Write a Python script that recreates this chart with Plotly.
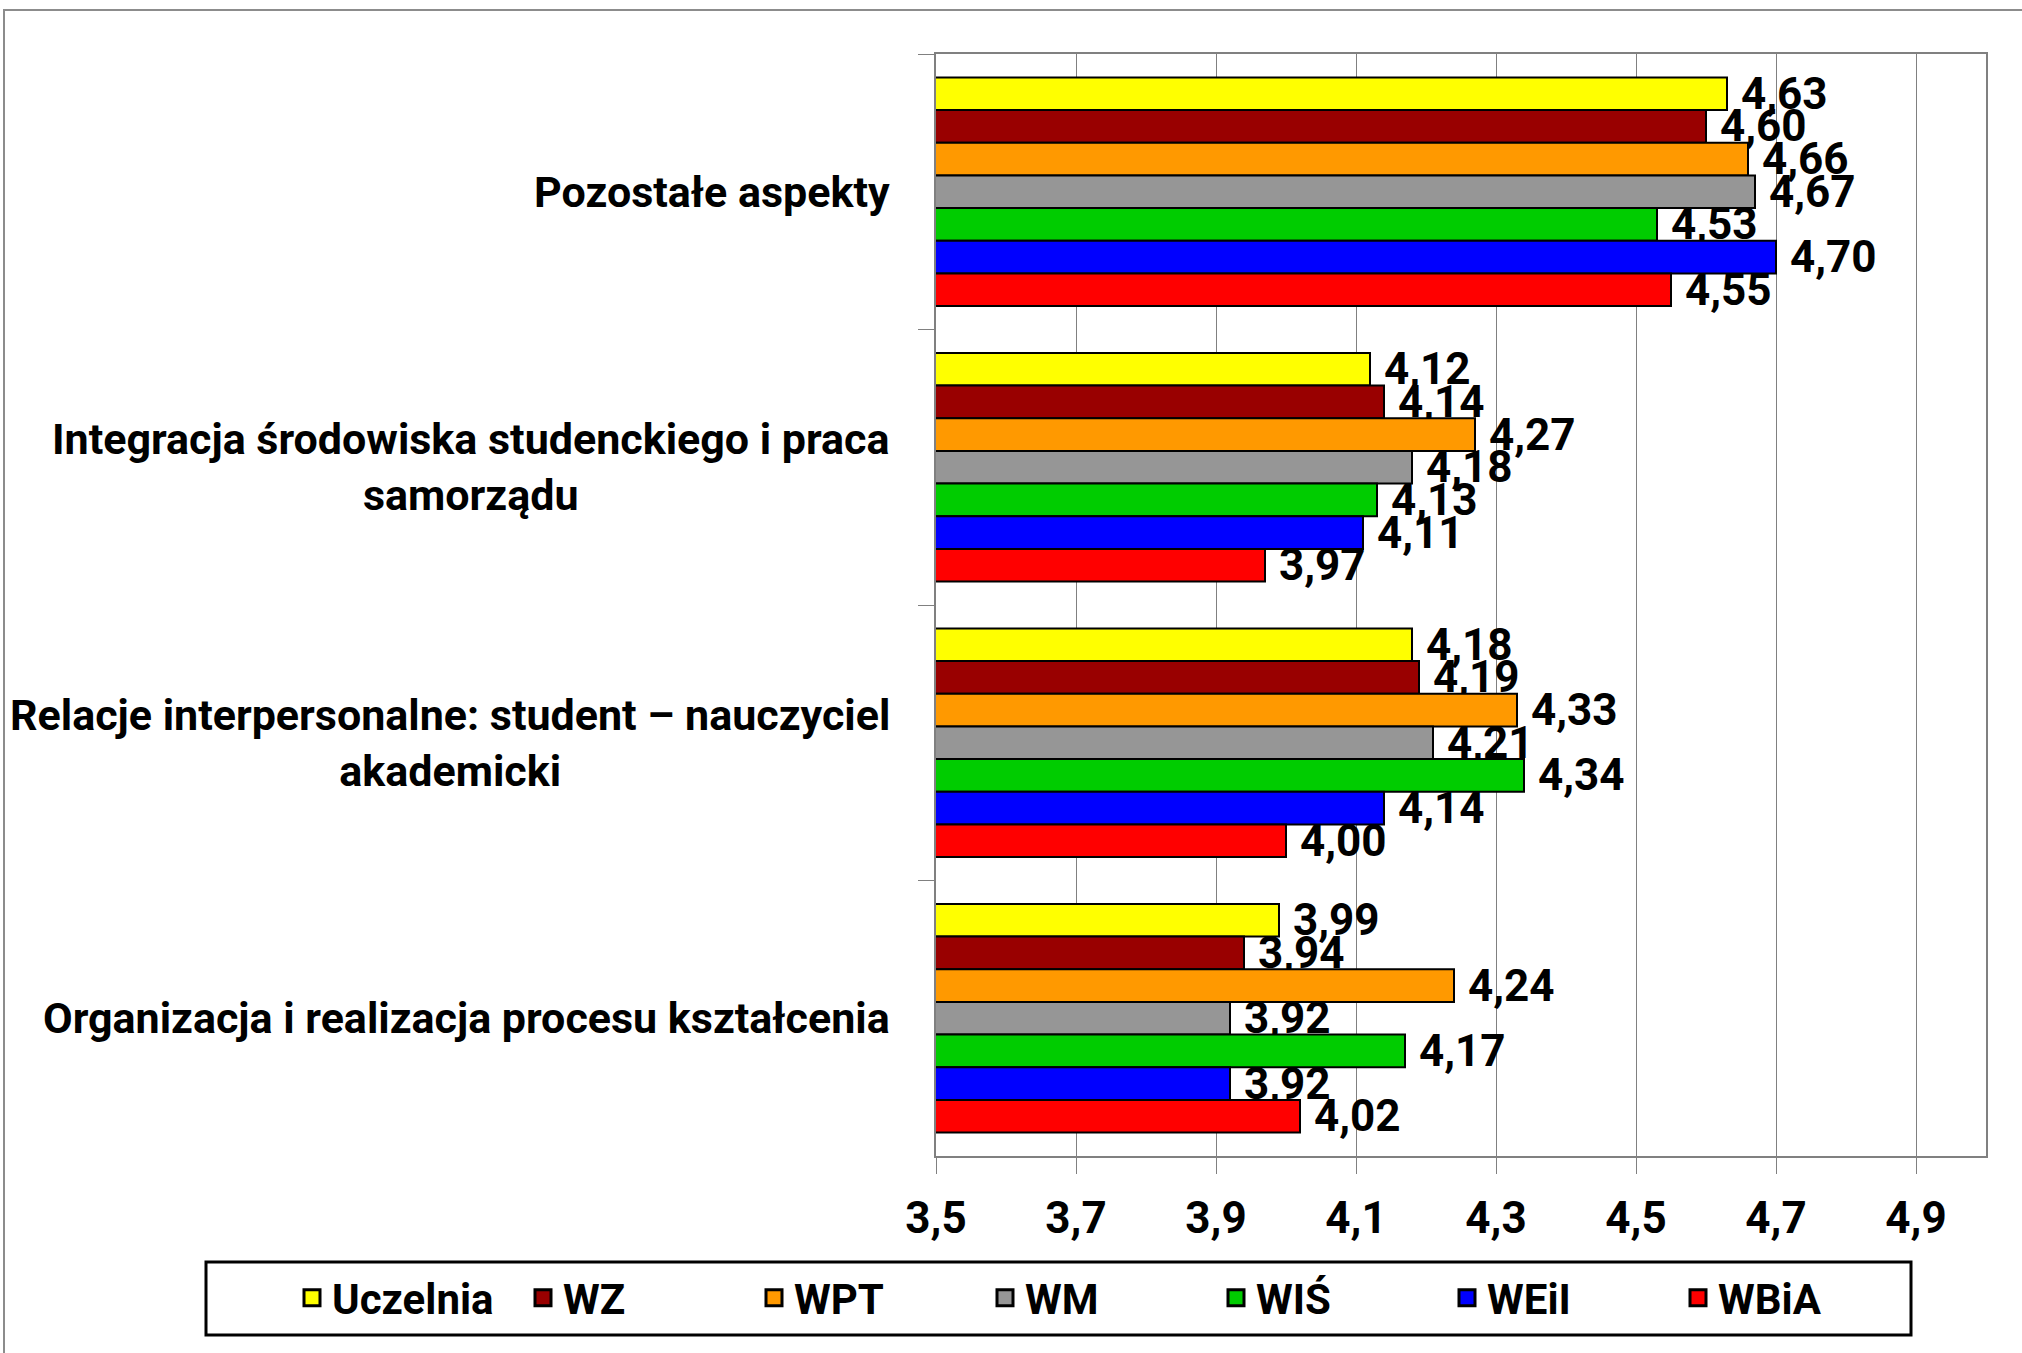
import plotly.graph_objects as go

# Chart Data #
categories = [
    "Pozostałe aspekty",
    "Integracja środowiska studenckiego i praca<br>samorządu",
    "Relacje interpersonalne: student – nauczyciel<br>akademicki",
    "Organizacja i realizacja procesu kształcenia",
]

series_names = ["Uczelnia", "WZ", "WPT", "WM", "WIŚ", "WEiI", "WBiA"]

uczelnia = [4.63, 4.12, 4.18, 3.99]
wz = [4.60, 4.14, 4.19, 3.94]
wpt = [4.66, 4.27, 4.33, 4.24]
wm = [4.67, 4.18, 4.21, 3.92]
wis = [4.53, 4.13, 4.34, 4.17]
weii = [4.70, 4.11, 4.14, 3.92]
wbia = [4.55, 3.97, 4.00, 4.02]

series_values = [uczelnia, wz, wpt, wm, wis, weii, wbia]

x_ticks = [3.5, 3.7, 3.9, 4.1, 4.3, 4.5, 4.7, 4.9]

# Figure Constants #
colours = ["#FFFF00", "#990000", "#FF9900", "#969696", "#00CC00", "#0000FF", "#FF0000"]
font_family = "Roboto, Liberation Sans, sans-serif"
W, H = 2022, 1353
L, R, T, B = 936, 36, 54, 197
plot_w = W - L - R
plot_h = H - T - B


# Pixel -> paper helpers (for frame and legend placement) #
def px_x(px):
    return (px - L) / plot_w


def px_y(py):
    return (H - B - py) / plot_h


fig = go.Figure()

# Bars #
for name, values, colour in zip(series_names, series_values, colours):
    fig.add_trace(go.Bar(
        name=name,
        y=categories,
        x=values,
        orientation="h",
        marker=dict(color=colour, line=dict(color="black", width=2)),
        text=values,
        texttemplate="\u00a0%{x:.2f}",
        textposition="outside",
        textfont=dict(family=font_family, size=44, color="black", weight="bold"),
        constraintext="none",
        cliponaxis=False,
        showlegend=False,
    ))

# Legend Entries (bigger square symbols than bar icons) #
for name, colour in zip(series_names, colours):
    fig.add_trace(go.Scatter(
        name=name,
        x=[None],
        y=[None],
        mode="markers",
        marker=dict(symbol="square", size=16, color=colour, line=dict(color="black", width=3)),
        showlegend=True,
    ))

# Category Labels (centered multi-line) #
for cat in categories:
    fig.add_annotation(
        text=cat,
        xref="paper",
        yref="y",
        x=0,
        y=cat,
        xanchor="right",
        yanchor="middle",
        xshift=-44,
        align="center",
        showarrow=False,
        font=dict(family=font_family, size=43, color="black", weight="bold"),
    )

# Outer Frame #
fig.add_shape(
    type="rect", xref="paper", yref="paper",
    x0=px_x(4), x1=px_x(2040), y0=px_y(10), y1=px_y(1370),
    line=dict(color="#8c8c8c", width=2), layer="below",
)

# Legend Frame #
fig.add_shape(
    type="rect", xref="paper", yref="paper",
    x0=px_x(206), x1=px_x(1911), y0=px_y(1262), y1=px_y(1335),
    line=dict(color="black", width=3),
)

fig.update_layout(
    width=W,
    height=H,
    autosize=False,
    margin=dict(l=L, r=R, t=T, b=B),
    paper_bgcolor="white",
    plot_bgcolor="white",
    barmode="group",
    bargap=0.17,
    bargroupgap=0,
    separators=",.",
    font=dict(family=font_family, color="black"),
    showlegend=True,
    legend=dict(
        orientation="h",
        xanchor="left",
        yanchor="middle",
        x=px_x(292),
        y=px_y(1298),
        entrywidth=186,
        bgcolor="rgba(0,0,0,0)",
        borderwidth=0,
        font=dict(family=font_family, size=42, color="black", weight="bold"),
        itemclick=False,
    ),
)

# X-Axis Styles #
fig.update_xaxes(
    range=[3.5, 5.0],
    tickvals=x_ticks,
    tickformat=".1f",
    showgrid=True,
    gridcolor="#808080",
    gridwidth=1,
    showline=True,
    linecolor="#808080",
    linewidth=2,
    mirror=True,
    ticks="outside",
    ticklen=16,
    tickcolor="#808080",
    ticklabelstandoff=6,
    tickfont=dict(family=font_family, size=44, color="black", weight="bold"),
    zeroline=False,
)

# Y-Axis Styles #
fig.update_yaxes(
    autorange="reversed",
    categoryorder="array",
    categoryarray=categories,
    showticklabels=False,
    showgrid=False,
    showline=True,
    linecolor="#808080",
    linewidth=2,
    mirror=True,
    ticks="outside",
    tickson="boundaries",
    ticklen=16,
    tickcolor="#808080",
)

fig.write_html(
    "out.html",
    config={"displayModeBar": False},
    post_script="document.body.style.margin='0';",
)
